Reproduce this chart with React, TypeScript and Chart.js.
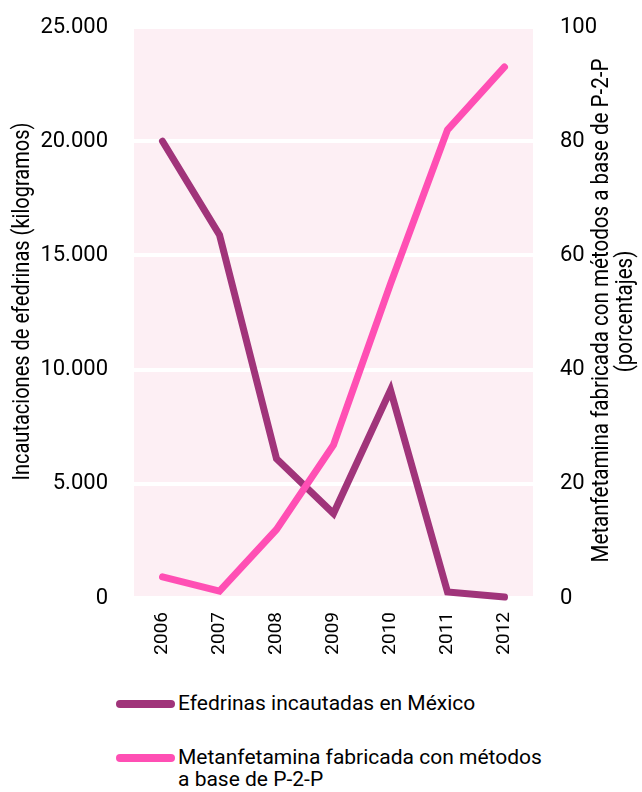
import React, { useEffect, useRef } from "react";
import { Chart, registerables } from "chart.js";

Chart.register(...registerables);

const years = ["2006", "2007", "2008", "2009", "2010", "2011", "2012"];
const efedrinas = [20000, 15900, 6100, 3700, 9100, 260, 40];
const metanfetamina = [3.7, 1.2, 12, 26.8, 55, 82, 93];
const leftTickValues = [0, 5000, 10000, 15000, 20000, 25000];
const rightTickValues = [0, 20, 40, 60, 80, 100];
const leftAxisTitle = "Incautaciones de efedrinas (kilogramos)";
const rightAxisTitle = ["Metanfetamina fabricada con métodos a base de P-2-P", "(porcentajes)"];
const seriesNames = [
  "Efedrinas incautadas en México",
  "Metanfetamina fabricada con métodos a base de P-2-P",
];
const legendLines = [
  ["Efedrinas incautadas en México"],
  ["Metanfetamina fabricada con métodos", "a base de P-2-P"],
];

const PURPLE = "#a0347a";
const PINK = "#ff4fb4";
const PLOT_BG = "#fdeff4";
const ROBOTO = "Roboto, 'Liberation Sans', sans-serif";

const fmt = (v: number) => String(v).replace(/\B(?=(\d{3})+(?!\d))/g, ".");

const bgPlugin = {
  id: "plotBg",
  beforeDraw(chart: any) {
    const { ctx, chartArea } = chart;
    ctx.save();
    ctx.fillStyle = PLOT_BG;
    ctx.fillRect(chartArea.left, chartArea.top, chartArea.right - chartArea.left, chartArea.bottom - chartArea.top);
    ctx.restore();
  },
};

// draws a vertical (bottom-to-top) condensed text line
function drawVertical(ctx: any, text: string, baselineX: number, centerY: number, targetLen: number | null, fixedScale?: number) {
  ctx.save();
  ctx.translate(baselineX, centerY);
  ctx.rotate(-Math.PI / 2);
  const w = ctx.measureText(text).width;
  const s = fixedScale ?? (targetLen ? Math.min(1, targetLen / w) : 1);
  ctx.scale(s, 1);
  ctx.fillText(text, 0, 0);
  ctx.restore();
  return s;
}

const titlesPlugin = {
  id: "axisTitles",
  afterDraw(chart: any) {
    const { ctx, chartArea } = chart;
    ctx.save();
    ctx.fillStyle = "#000";
    ctx.textAlign = "center";
    ctx.textBaseline = "alphabetic";
    ctx.font = `23px ${ROBOTO}`;
    const mid = (chartArea.top + chartArea.bottom) / 2;
    drawVertical(ctx, leftAxisTitle, 29, mid - 11, 358);
    const s = drawVertical(ctx, rightAxisTitle[0], 608, mid - 2, 504);
    drawVertical(ctx, rightAxisTitle[1], 632, mid - 1, null, s);
    ctx.restore();
  },
};

const noVerticalPadding = (scale: any) => {
  scale.paddingTop = 0;
  scale.paddingBottom = 0;
};

export default function App() {
  const ref = useRef<HTMLCanvasElement>(null);
  useEffect(() => {
    if (!ref.current) return;
    const chart = new Chart(ref.current, {
      type: "line",
      data: {
        labels: years,
        datasets: [
          {
            label: seriesNames[0],
            data: efedrinas,
            yAxisID: "y",
            borderColor: PURPLE,
            backgroundColor: PURPLE,
            borderWidth: 7,
            borderCapStyle: "round",
            borderJoinStyle: "miter",
            pointRadius: 0,
            tension: 0,
            clip: false as any,
            order: 1,
          },
          {
            label: seriesNames[1],
            data: metanfetamina,
            yAxisID: "y1",
            borderColor: PINK,
            backgroundColor: PINK,
            borderWidth: 7,
            borderCapStyle: "round",
            borderJoinStyle: "miter",
            pointRadius: 0,
            tension: 0,
            clip: false as any,
            order: 0,
          },
        ],
      },
      options: {
        animation: false,
        responsive: false,
        devicePixelRatio: 1,
        layout: { padding: { top: 27, left: 0, right: 0, bottom: 0 } },
        plugins: { legend: { display: false }, tooltip: { enabled: false } },
        scales: {
          x: {
            type: "category",
            offset: true,
            grid: { display: false, drawTicks: false },
            border: { display: false },
            ticks: {
              minRotation: 90,
              maxRotation: 90,
              padding: 14,
              color: "#000",
              font: { family: ROBOTO, size: 19 },
            },
            afterFit(scale: any) {
              scale.height = 82;
            },
          },
          y: {
            position: "left",
            min: 0,
            max: 25000,
            afterBuildTicks(scale: any) {
              scale.ticks = leftTickValues.map((v) => ({ value: v }));
            },
            grid: { color: "#ffffff", lineWidth: 4, drawTicks: false },
            border: { display: false },
            ticks: {
              padding: 26,
              color: "#000",
              font: { family: ROBOTO, size: 22 },
              callback: (v: any) => fmt(Number(v)),
            },
            afterFit(scale: any) {
              scale.width = 134;
              noVerticalPadding(scale);
            },
          },
          y1: {
            position: "right",
            min: 0,
            max: 100,
            afterBuildTicks(scale: any) {
              scale.ticks = rightTickValues.map((v) => ({ value: v }));
            },
            grid: { display: false, drawTicks: false },
            border: { display: false },
            ticks: {
              padding: 27,
              color: "#000",
              font: { family: ROBOTO, size: 22 },
              callback: (v: any) => String(v),
            },
            afterFit(scale: any) {
              scale.width = 109;
              noVerticalPadding(scale);
            },
          },
        },
      },
      plugins: [bgPlugin, titlesPlugin],
    });
    return () => chart.destroy();
  }, []);

  const legendColors = [PURPLE, PINK];
  const legendTops = [692, 746];

  return (
    <div style={{ position: "absolute", left: 0, top: 0, width: 642, height: 792, background: "#fff", overflow: "hidden" }}>
      <canvas ref={ref} width={642} height={680} style={{ position: "absolute", left: 0, top: 0, width: 642, height: 680 }} />
      {legendLines.map((lines, i) => (
        <div key={i}>
          <span
            style={{
              position: "absolute",
              left: 116,
              top: legendTops[i] + 8,
              width: 59,
              height: 8,
              borderRadius: 4,
              background: legendColors[i],
            }}
          />
          <div
            style={{
              position: "absolute",
              left: 178,
              top: legendTops[i],
              fontFamily: ROBOTO,
              fontSize: 21,
              lineHeight: "22px",
              color: "#000",
              whiteSpace: "nowrap",
            }}
          >
            {lines.map((l, j) => (
              <div key={j}>{l}</div>
            ))}
          </div>
        </div>
      ))}
    </div>
  );
}
